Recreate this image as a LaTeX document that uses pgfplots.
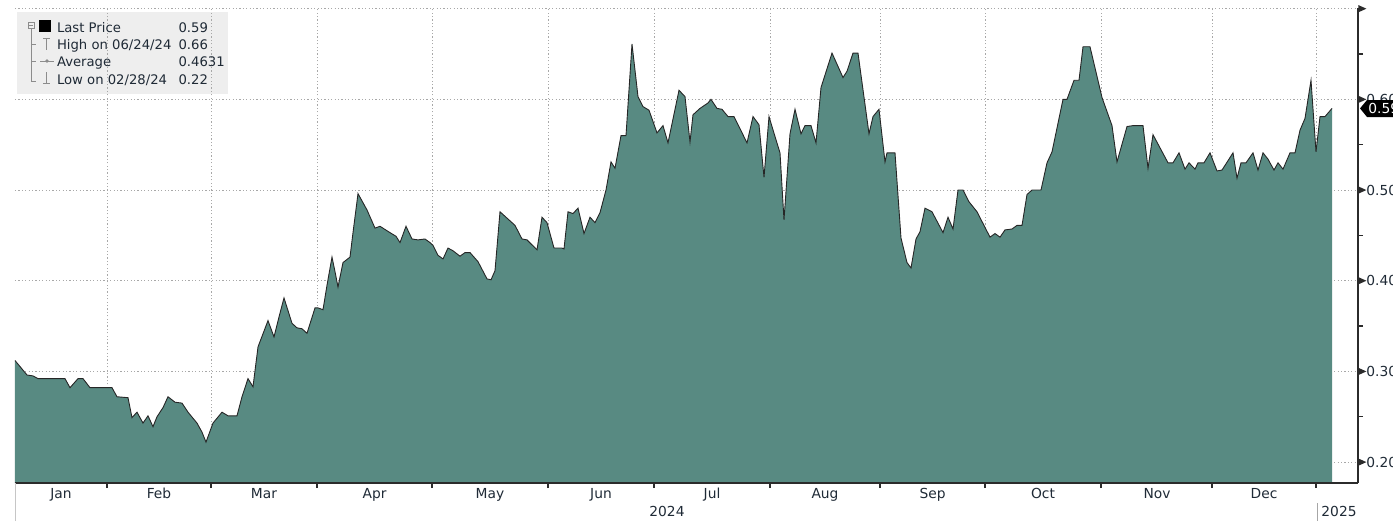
\documentclass[border=0pt]{standalone}
\usepackage{fontspec}
\setmainfont{DejaVu Sans}
\usepackage{pgfplots}
\pgfplotsset{compat=1.18}
\usepackage{pgfplotstable}

\definecolor{areafill}{HTML}{588A82}
\definecolor{txt}{HTML}{1F2A36}
\definecolor{gridc}{HTML}{A8A8A8}
\definecolor{axc}{HTML}{2B2B2B}
\definecolor{legbg}{HTML}{EEEEEE}
\definecolor{legsym}{HTML}{8C8C8C}

% x = session position along the chart, y = last price
\pgfplotstableread{
x y
15 0.312
27 0.296
33 0.295
38 0.292
65 0.292
70 0.282
78 0.292
83 0.292
90 0.282
112 0.282
117 0.272
128 0.271
132 0.249
137 0.255
143 0.243
148 0.251
153 0.239
157 0.250
163 0.260
168 0.272
175 0.266
182 0.265
188 0.255
197 0.243
202 0.233
206 0.222
213 0.243
222 0.255
228 0.251
237 0.251
242 0.272
248 0.292
253 0.283
258 0.327
268 0.356
274 0.338
279 0.360
284 0.381
292 0.353
297 0.348
302 0.347
307 0.342
315 0.370
318 0.370
323 0.368
327 0.395
332 0.426
335 0.410
338 0.393
343 0.420
350 0.426
353 0.453
358 0.496
367 0.478
375 0.458
380 0.460
390 0.453
396 0.449
400 0.442
406 0.460
412 0.446
418 0.445
425 0.446
430 0.442
433 0.439
438 0.428
443 0.424
448 0.436
453 0.433
460 0.427
465 0.431
470 0.431
478 0.421
487 0.402
491 0.401
495 0.411
500 0.476
515 0.461
522 0.446
527 0.445
537 0.434
542 0.470
547 0.464
554 0.436
562 0.436
564 0.435
568 0.476
573 0.474
578 0.480
584 0.452
590 0.470
595 0.464
600 0.475
606 0.500
611 0.531
615 0.524
621 0.560
626 0.560
632 0.661
638 0.603
643 0.592
649 0.588
657 0.563
663 0.571
668 0.552
679 0.610
685 0.603
690 0.553
693 0.583
700 0.590
708 0.596
711 0.600
717 0.590
722 0.589
728 0.581
734 0.581
747 0.552
753 0.581
759 0.572
764 0.514
769 0.581
775 0.559
780 0.541
784 0.467
790 0.562
795 0.589
801 0.562
805 0.571
811 0.571
816 0.552
821 0.613
832 0.651
843 0.624
847 0.631
853 0.651
858 0.651
869 0.562
873 0.581
879 0.589
885 0.531
887 0.541
895 0.541
901 0.447
907 0.420
911 0.414
916 0.446
920 0.454
925 0.480
932 0.476
943 0.453
948 0.470
953 0.457
958 0.500
963 0.500
969 0.487
977 0.476
990 0.448
995 0.452
1000 0.448
1005 0.456
1012 0.457
1017 0.461
1022 0.461
1027 0.495
1032 0.500
1041 0.500
1047 0.530
1052 0.542
1063 0.600
1067 0.600
1074 0.621
1079 0.621
1083 0.658
1090 0.658
1102 0.602
1112 0.571
1117 0.531
1127 0.570
1133 0.571
1143 0.571
1148 0.524
1153 0.561
1168 0.530
1173 0.530
1179 0.541
1185 0.523
1189 0.530
1195 0.523
1198 0.530
1204 0.530
1210 0.541
1217 0.521
1222 0.522
1233 0.541
1237 0.513
1241 0.530
1246 0.530
1253 0.541
1258 0.522
1263 0.541
1268 0.534
1274 0.522
1278 0.530
1283 0.523
1290 0.541
1295 0.541
1300 0.566
1305 0.579
1311 0.621
1316 0.542
1320 0.581
1325 0.581
1332 0.590
}\price

\newcommand\tri{\tikz[baseline={(0,-0.36em)}]\fill[axc] (0,-1.8pt)--(4pt,0)--(0,1.8pt)--cycle;}

\begin{document}
\begin{tikzpicture}[font=\fontsize{6.9}{8}\selectfont, text=txt]
\useasboundingbox (-7.5pt,-19pt) rectangle (689pt,241.5pt);

% legend panel (behind the grid)
\fill[legbg] (1pt,194.5pt) rectangle (106.5pt,235.5pt);

\begin{axis}[
  at={(0,0)}, anchor=south west,
  scale only axis, width=671.5pt, height=237.5pt,
  xmin=15, xmax=1358, ymin=0.1769, ymax=0.7007,
  axis x line*=bottom, axis y line*=right,
  axis line style={axc, line width=0.9pt},
  tick align=outside,
  major tick length=0pt, minor tick length=2.6pt,
  minor tick style={axc, line width=0.6pt},
  ytick={0.2,0.3,0.4,0.5,0.6,0.7},
  yticklabels={\tri0.20,\tri0.30,\tri0.40,\tri0.50,\tri0.60,\tri\phantom{0.70}},
  minor ytick={0.25,0.35,0.45,0.55,0.65},
  yticklabel style={anchor=west, inner sep=0pt, xshift=0pt},
  ymajorgrids=true,
  grid style={gridc, line width=0.5pt, dash pattern=on 0.6pt off 1.1pt},
  xtick={61,159,264,374.5,490,601,712,825,932.5,1043,1157,1264},
  xticklabels={Jan,Feb,Mar,Apr,May,Jun,Jul,Aug,Sep,Oct,Nov,Dec},
  xticklabel style={anchor=base, inner sep=0pt, yshift=-7.5pt},
  extra x ticks={107,211,317,432,548,654,770,880,985,1101,1212,1316},
  extra x tick labels={},
  extra x tick style={xmajorgrids=true, major tick length=2.5pt,
    tick style={axc, line width=0.6pt}},
]
\addplot[draw=none, fill=areafill] table {\price} \closedcycle;
\addplot[black!85, line width=0.45pt] table {\price};
\end{axis}

% bottom axis line over the area
\draw[axc, line width=0.9pt] (0,0) -- (671.5pt,0);
\draw[gray!45, line width=0.4pt] (0,-19pt) -- (0,0);

% years
\node[anchor=base, inner sep=0pt] at (326pt,-16.5pt) {2024};
\node[anchor=base, inner sep=0pt] at (662pt,-16.5pt) {2025};
\draw[gray!70, line width=0.4pt] (651pt,-10pt) -- (651pt,-19pt);

% last price tag
\fill[black] (672.5pt,187.3pt) -- (676pt,191.5pt) -- (700pt,191.5pt) -- (700pt,183pt) -- (676pt,183pt) -- cycle;
\node[anchor=west, inner sep=0pt, text=white] at (676.5pt,187.3pt) {0.59};

% legend content
\draw[legsym, line width=0.4pt] (6.5pt,227.5pt) rectangle (9.5pt,230.5pt);
\draw[legsym, line width=0.4pt] (7.2pt,229pt) -- (8.8pt,229pt);
\draw[legsym, line width=0.4pt] (8pt,227.5pt) -- (8pt,201pt) -- (10.5pt,201pt);
\draw[legsym, line width=0.4pt] (8pt,219.5pt) -- (10.5pt,219.5pt) (8pt,211pt) -- (10.5pt,211pt);
\fill[black] (12.2pt,225.5pt) rectangle (18.2pt,231.5pt);
\draw[legsym, line width=0.5pt] (14pt,222.5pt) -- (17.5pt,222.5pt) (15.75pt,222.5pt) -- (15.75pt,216.6pt);
\draw[legsym, line width=0.5pt] (12.5pt,211pt) -- (19.5pt,211pt);
\fill[legsym] (16pt,211pt) circle (0.9pt);
\draw[legsym, line width=0.5pt] (14pt,199.6pt) -- (17.5pt,199.6pt) (15.75pt,199.6pt) -- (15.75pt,205.4pt);

\begin{scope}[font=\fontsize{6.6}{8}\selectfont, every node/.style={anchor=base west, inner sep=0pt}]
\node at (20.8pt,225.5pt) {Last Price};
\node at (20.8pt,216.8pt) {High on 06/24/24};
\node at (20.8pt,208.2pt) {Average};
\node at (20.8pt,199.5pt) {Low on 02/28/24};
\node at (81.6pt,225.5pt) {0.59};
\node at (81.6pt,216.8pt) {0.66};
\node at (81.6pt,208.2pt) {0.4631};
\node at (81.6pt,199.5pt) {0.22};
\end{scope}
\end{tikzpicture}
\end{document}
